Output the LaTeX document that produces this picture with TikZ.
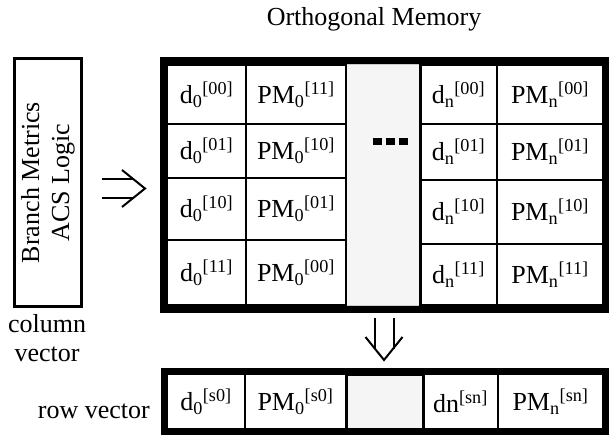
\documentclass[tikz,border=0pt]{standalone}
\usepackage{fontspec}
\setmainfont{Liberation Serif}
\usepackage{graphicx}
\usetikzlibrary{calc}
\definecolor{colfill}{HTML}{F5F5F5}
% symbol with subscript followed by superscript
\newcommand\idx[3]{#1\textsubscript{#2}\textsuperscript{#3}}

\begin{document}
\begin{tikzpicture}[x=1pt,y=-1pt,
  every node/.style={font=\fontsize{26}{30}\selectfont, inner sep=0pt},
  cellbox/.style={draw, line width=2pt, outer sep=0pt},
  frame/.style={draw, outer sep=auto},
  dbl/.style={line width=2pt, double distance=17pt},
  head/.style={line width=2pt, line join=miter, line cap=butt}]
\useasboundingbox (0,0) rectangle (609,435);

% title
\node[anchor=base] (title) at (374,26) {Orthogonal Memory};

% branch metric / ACS logic column vector
\node[frame, line width=3pt, minimum width=67pt, minimum height=248pt] (bm) at (48,182.5)
  {\rotatebox{90}{\begin{tabular}{@{}c@{}}Branch Metrics\\ACS Logic\end{tabular}}};
\node[align=center, font=\fontsize{26}{29}\selectfont] (colvec) at (47,338.6) {column\\vector};

% memory array: gray middle column
\node[fill=colfill, draw=black!20, line width=1pt, outer sep=0pt,
  minimum width=74pt, minimum height=240pt] (gc) at (383,185) {};

% memory array: column 0
\node[cellbox, minimum width=79pt, minimum height=59pt] (a1) at (206.5,94.5) {\idx{d}{0}{[00]}};
\node[cellbox, minimum width=100pt, minimum height=59pt] (b1) at (296,94.5) {\idx{PM}{0}{[11]}};
\node[cellbox, minimum width=79pt, minimum height=54pt] (a2) at (206.5,151) {\idx{d}{0}{[01]}};
\node[cellbox, minimum width=100pt, minimum height=54pt] (b2) at (296,151) {\idx{PM}{0}{[10]}};
\node[cellbox, minimum width=79pt, minimum height=62pt] (a3) at (206.5,209) {\idx{d}{0}{[10]}};
\node[cellbox, minimum width=100pt, minimum height=62pt] (b3) at (296,209) {\idx{PM}{0}{[01]}};
\node[cellbox, minimum width=79pt, minimum height=65pt] (a4) at (206.5,272.5) {\idx{d}{0}{[11]}};
\node[cellbox, minimum width=100pt, minimum height=65pt] (b4) at (296,272.5) {\idx{PM}{0}{[00]}};

% memory array: column n
\node[cellbox, minimum width=77pt, minimum height=59pt] (c1) at (458.5,94.5) {\idx{d}{n}{[00]}};
\node[cellbox, minimum width=106pt, minimum height=59pt] (e1) at (550,94.5) {\idx{PM}{n}{[00]}};
\node[cellbox, minimum width=77pt, minimum height=56pt] (c2) at (458.5,152) {\idx{d}{n}{[01]}};
\node[cellbox, minimum width=106pt, minimum height=56pt] (e2) at (550,152) {\idx{PM}{n}{[01]}};
\node[cellbox, minimum width=77pt, minimum height=64pt] (c3) at (458.5,212) {\idx{d}{n}{[10]}};
\node[cellbox, minimum width=106pt, minimum height=64pt] (e3) at (550,212) {\idx{PM}{n}{[10]}};
\node[cellbox, minimum width=77pt, minimum height=61pt] (c4) at (458.5,274.5) {\idx{d}{n}{[11]}};
\node[cellbox, minimum width=106pt, minimum height=61pt] (e4) at (550,274.5) {\idx{PM}{n}{[11]}};

\draw[line width=3pt] (gc.north east) -- (gc.south east);

% ellipsis squares
\fill (373,138) rectangle (382,145);
\fill (386,138) rectangle (395,145);
\fill (399,138) rectangle (408,145);

% outer frame of the memory
\node[frame, line width=7pt, minimum width=442pt, minimum height=248pt] (mem) at (384.5,185) {};

% row vector
\node[anchor=base east] (rowlbl) at (150,418) {row vector};
\node[cellbox, minimum width=78pt, minimum height=55pt] (r1) at (206,401.5) {\idx{d}{0}{[s0]}};
\node[cellbox, minimum width=101pt, minimum height=55pt] (r2) at (295.5,401.5) {\idx{PM}{0}{[s0]}};
\node[cellbox, minimum width=75pt, minimum height=55pt] (r4) at (460.5,401.5) {dn\textsuperscript{[sn]}};
\node[cellbox, minimum width=105pt, minimum height=55pt] (r5) at (550.5,401.5) {\idx{PM}{n}{[sn]}};
\node[cellbox, line width=3pt, fill=colfill, minimum width=77pt, minimum height=55pt] (r3) at (384.5,401.5) {};
\node[frame, line width=6pt, minimum width=442pt, minimum height=61pt] (row) at (385,401.5) {};

% double arrow: logic -> memory
\coordinate (ylev) at (0,188.5);
\draw[dbl, shorten <=19pt, shorten >=26pt] (bm.east |- ylev) -- (mem.west |- ylev);
\coordinate (rtip) at ([xshift=-15pt]mem.west |- ylev);
\draw[head] ([shift={(-23pt,18.5pt)}]rtip) -- (rtip) -- ([shift={(-23pt,-18.5pt)}]rtip);

% double arrow: memory -> row vector
\coordinate (xlev) at (384,0);
\draw[dbl, shorten <=5.5pt, shorten >=19pt] (xlev |- mem.south) -- (xlev |- row.north);
\coordinate (dtip) at ([yshift=8pt]xlev |- row.north);
\draw[head] ([shift={(-18.5pt,23pt)}]dtip) -- (dtip) -- ([shift={(18.5pt,23pt)}]dtip);
\end{tikzpicture}
\end{document}
